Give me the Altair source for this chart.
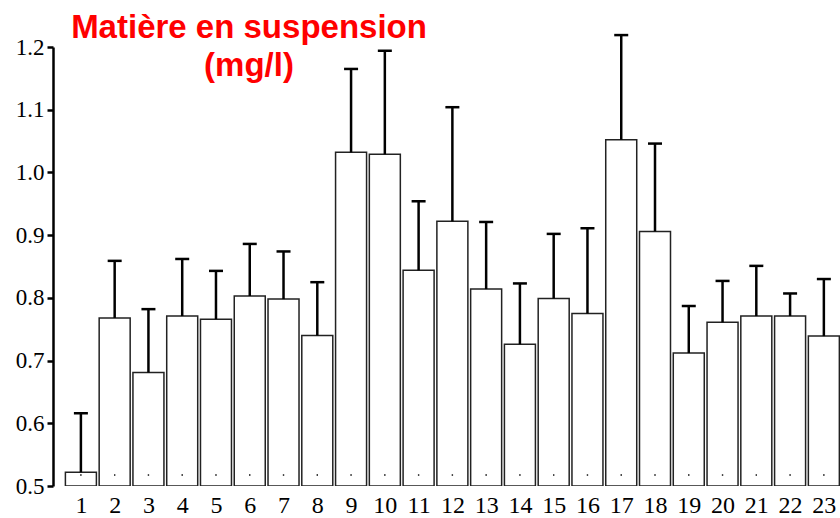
import altair as alt
import pandas as pd

# Sampling sites and suspended-matter statistics (mg/l)
sites = list(range(1, 24))
means = [0.522, 0.768, 0.681, 0.771, 0.766, 0.803, 0.798, 0.740, 1.032, 1.029,
         0.844, 0.922, 0.814, 0.726, 0.799, 0.775, 1.052, 0.906, 0.712, 0.761,
         0.771, 0.771, 0.739]
uppers = [0.616, 0.859, 0.782, 0.862, 0.843, 0.886, 0.874, 0.825, 1.165, 1.194,
          0.954, 1.104, 0.921, 0.823, 0.902, 0.911, 1.219, 1.046, 0.787, 0.827,
          0.851, 0.807, 0.830]
y_ticks = [0.5, 0.6, 0.7, 0.8, 0.9, 1.0, 1.1, 1.2]
title_line1 = "Matière en suspension"
title_line2 = "(mg/l)"

df = pd.DataFrame({"site": sites, "mean": means, "upper": uppers})

serif = "Liberation Serif"

x_scale = alt.Scale(domain=[0.322, 23.33], nice=False, zero=False)
x_axis = alt.Axis(values=sites, domain=False, ticks=False, grid=False,
                  labelFont=serif, labelFontSize=24, labelColor="black",
                  labelPadding=7, labelFlush=False, labelOverlap=False,
                  title=None)
y_scale = alt.Scale(domain=[0.5, 1.2], nice=False, zero=False)
y_axis = alt.Axis(values=y_ticks, format=".1f", grid=False, title=None,
                  domainColor="black", domainWidth=2.5, tickColor="black",
                  tickWidth=2.5, tickSize=6, labelFont=serif, labelFontSize=23,
                  labelColor="black", labelPadding=3)

x_enc = alt.X("site:Q", scale=x_scale, axis=x_axis)

base = alt.Chart(df)

bars = base.mark_bar(size=31, fill="white", stroke="#222222", strokeWidth=1.5,
                     clip=True).encode(
    x=x_enc,
    y=alt.Y("mean:Q", scale=y_scale, axis=y_axis),
    y2=alt.datum(0.5),
)

whiskers = base.mark_rule(color="black", strokeWidth=2.5).encode(
    x=x_enc,
    y=alt.Y("mean:Q", scale=y_scale, axis=y_axis),
    y2="upper:Q",
)

caps = base.mark_tick(orient="horizontal", size=14, thickness=2.5,
                      color="black", opacity=1).encode(
    x=x_enc,
    y=alt.Y("upper:Q", scale=y_scale, axis=y_axis),
)

dots = base.mark_square(size=2, color="black", opacity=1, filled=True).encode(
    x=x_enc,
    y=alt.datum(0.5175),
)

title_style = dict(font="Liberation Sans", fontWeight="bold", fontSize=33,
                   color="#ff0000", align="center", baseline="alphabetic")

title_a = alt.Chart(df).mark_text(text=title_line1, **title_style).encode(
    x=alt.value(196), y=alt.value(-9)
).transform_filter(alt.datum.site == 1)

title_b = alt.Chart(df).mark_text(text=title_line2, **title_style).encode(
    x=alt.value(196), y=alt.value(29)
).transform_filter(alt.datum.site == 1)

chart = alt.layer(bars, whiskers, caps, dots, title_a, title_b).properties(
    width=787,
    height=439,
    autosize=alt.AutoSizeParams(type="none"),
    padding={"left": 53, "top": 47, "right": 0, "bottom": 32},
    background="white",
).configure_view(stroke=None)

chart.save("out.html", embed_options={"renderer": "svg", "actions": False})
